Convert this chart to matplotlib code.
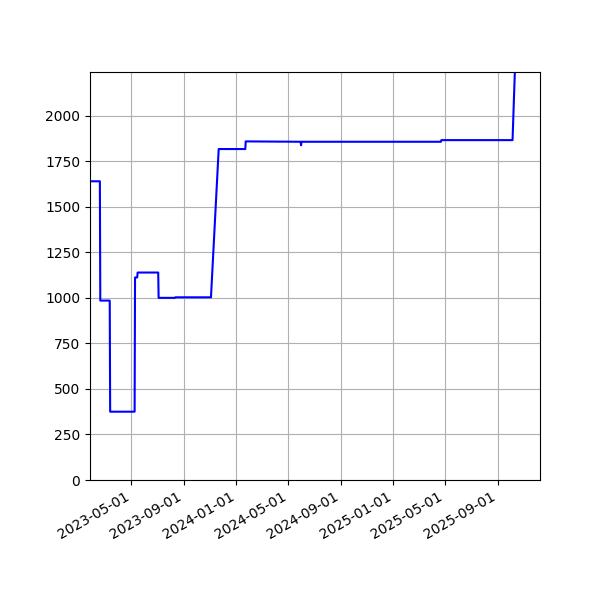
import matplotlib
matplotlib.use("Agg")
import matplotlib.pyplot as plt
import matplotlib.dates as mdates
import pandas as pd

dates = ["2023-01-20", "2023-02-17", "2023-02-18", "2023-03-12", "2023-03-13",
         "2023-05-09", "2023-05-10", "2023-05-15", "2023-05-16", "2023-07-03",
         "2023-07-04", "2023-08-11", "2023-08-12", "2023-11-03", "2023-11-21",
         "2024-01-22", "2024-01-23", "2024-05-30", "2024-05-31", "2024-06-01",
         "2025-04-22", "2025-04-23", "2025-10-06", "2025-10-16"]
values = [1640, 1640, 985, 985, 375,
          375, 1112, 1112, 1139, 1139,
          1000, 1000, 1003, 1003, 1817,
          1817, 1859, 1857, 1838, 1857,
          1857, 1866, 1866, 2566]

x = pd.to_datetime(dates)

fig = plt.figure(figsize=(6, 6), dpi=100)
ax = fig.add_axes([0.15, 0.2, 0.75, 0.68])
ax.plot(x, values, color="blue", linewidth=1.5)
ax.set_ylim(0, 2240)
ax.set_xlim(pd.Timestamp("2023-01-25"), pd.Timestamp("2025-12-09"))
ax.xaxis.set_major_locator(mdates.MonthLocator(bymonth=[1, 5, 9]))
ax.xaxis.set_major_formatter(mdates.DateFormatter("%Y-%m-%d"))
ax.grid(True)
for lbl in ax.get_xticklabels():
    lbl.set_rotation(30)
    lbl.set_ha("right")
fig.savefig("out.png", dpi=100)
